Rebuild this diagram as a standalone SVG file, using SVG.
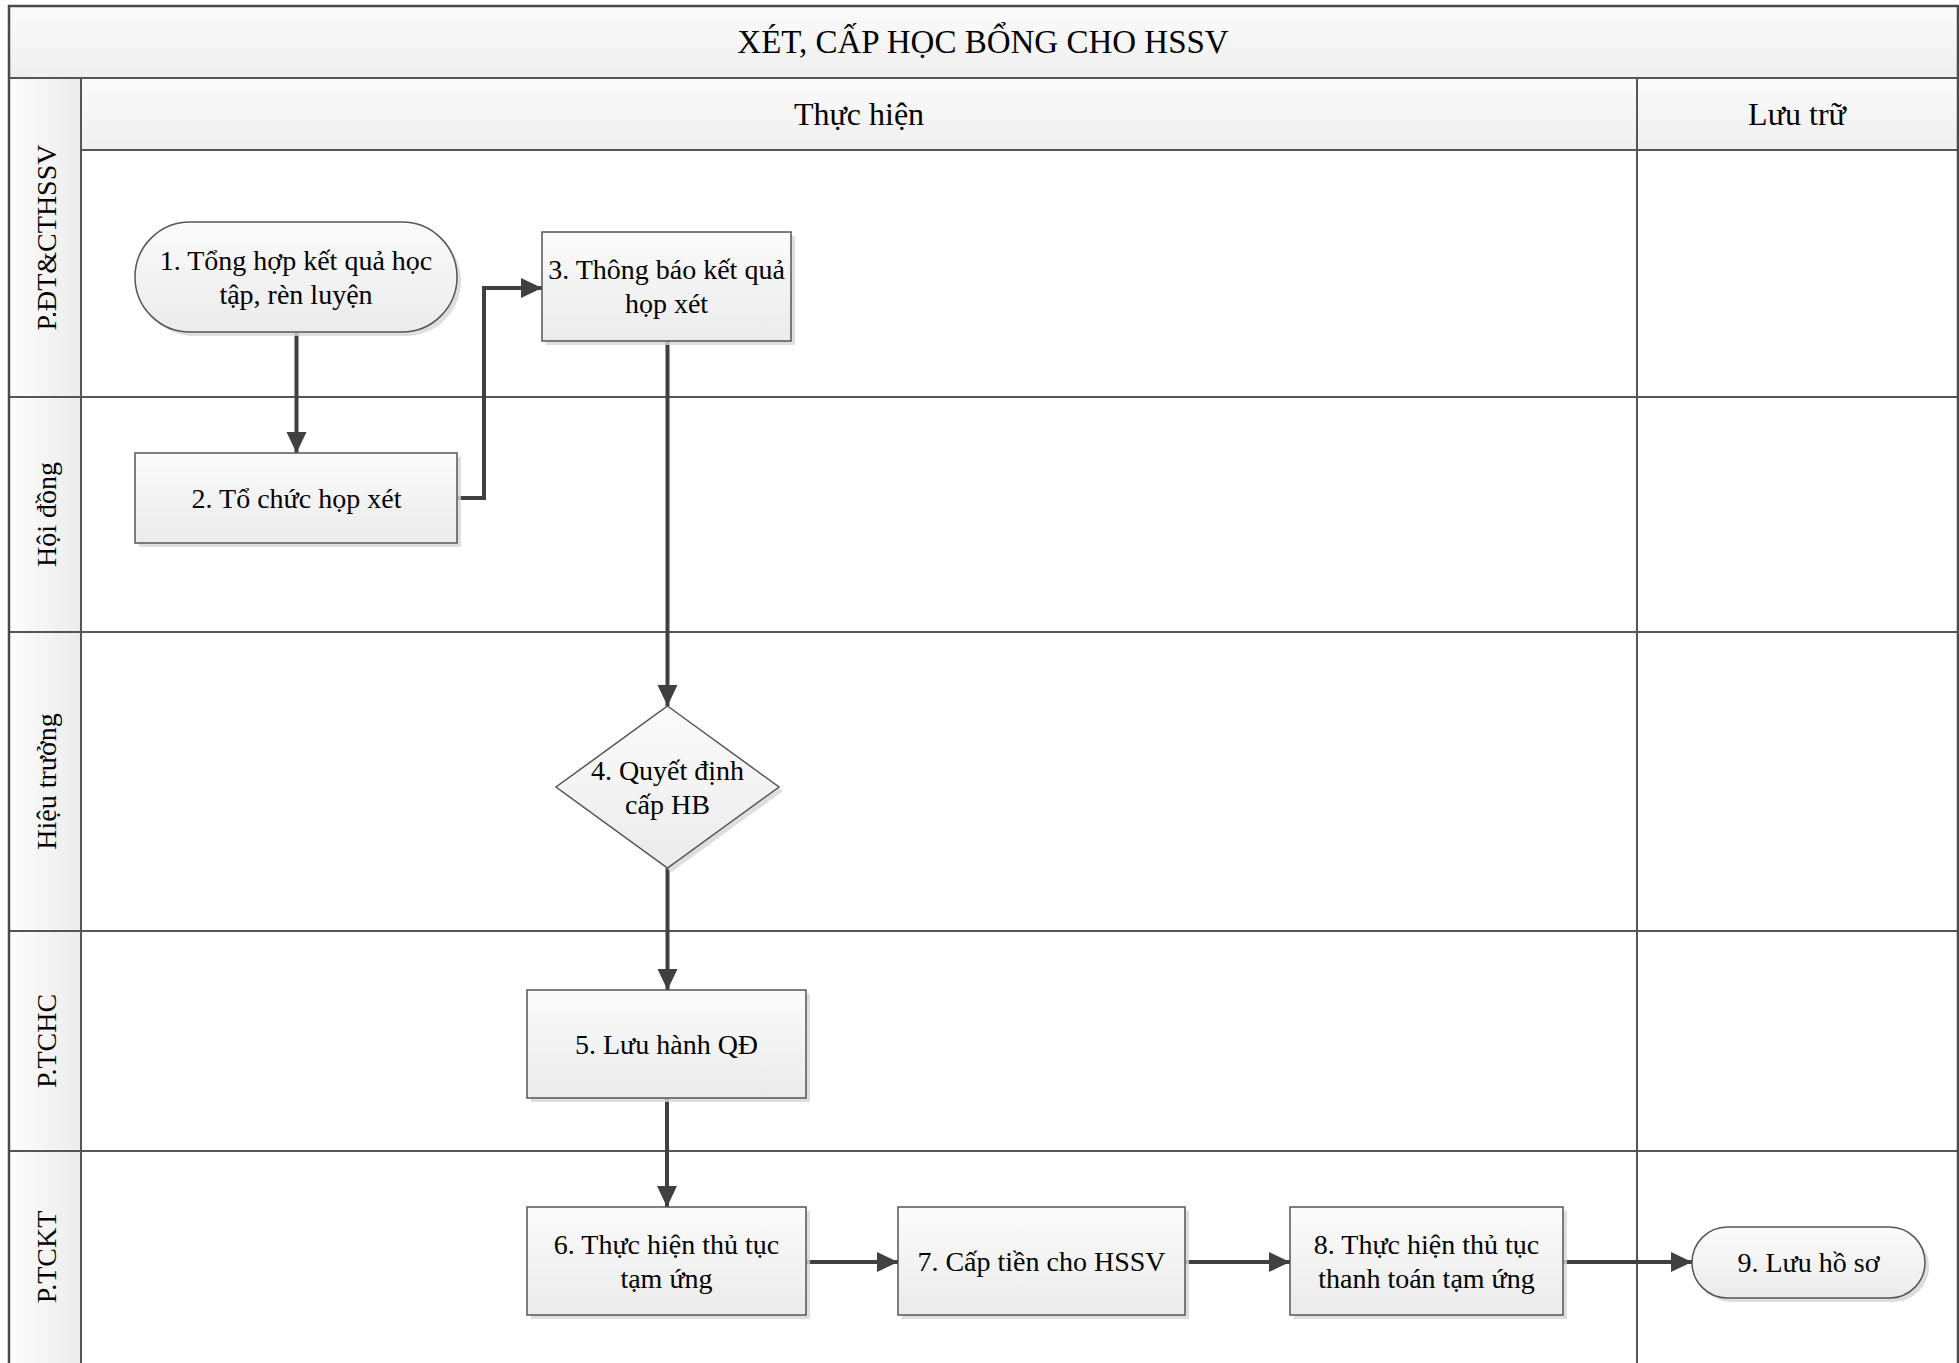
<svg xmlns="http://www.w3.org/2000/svg" width="1959" height="1363" viewBox="0 0 1959 1363">
<style>
.frame{fill:none;stroke:#4a4a4a;stroke-width:2.5}
.ln{stroke:#555;stroke-width:2;fill:none}
.node{fill:url(#ng);stroke:#555;stroke-width:1.5}
.shadow{fill:#d6d6d6;opacity:.8}
.t{font-family:"Liberation Serif","Times New Roman",serif;fill:#000;text-anchor:middle}
.nt{font-size:28px}
.ht{font-size:32px}
.tt{font-size:33px}
.conn{stroke:#404040;stroke-width:4;fill:none}
</style>
<defs>
<linearGradient id="ng" x1="0" y1="0" x2="0" y2="1"><stop offset="0" stop-color="#fbfbfb"/><stop offset="1" stop-color="#ebebeb"/></linearGradient>
<linearGradient id="hg" x1="0" y1="0" x2="0" y2="1"><stop offset="0" stop-color="#fbfbfb"/><stop offset="1" stop-color="#efefef"/></linearGradient>
<linearGradient id="lg" x1="0" y1="0" x2="1" y2="0"><stop offset="0" stop-color="#fdfdfd"/><stop offset="1" stop-color="#ececec"/></linearGradient>
<marker id="arr" markerUnits="userSpaceOnUse" markerWidth="24" markerHeight="22" refX="21" refY="10" orient="auto"><path d="M0,0 L21,10 L0,20 z" fill="#404040"/></marker>
</defs>
<rect x="0" y="0" width="1959" height="1363" fill="#fff"/>
<g id="pool">
<rect x="9" y="6" width="1949" height="72" fill="url(#hg)"/>
<rect x="81" y="78" width="1877" height="72" fill="url(#hg)"/>
<rect x="9" y="78" width="72" height="1300" fill="url(#lg)"/>
<line class="ln" x1="9" y1="78" x2="1958" y2="78"/>
<line class="ln" x1="81" y1="150" x2="1958" y2="150"/>
<line class="ln" x1="81" y1="78" x2="81" y2="1363"/>
<line class="ln" x1="1637" y1="78" x2="1637" y2="1363"/>
<line class="ln" x1="9" y1="397" x2="1958" y2="397"/>
<line class="ln" x1="9" y1="632" x2="1958" y2="632"/>
<line class="ln" x1="9" y1="931" x2="1958" y2="931"/>
<line class="ln" x1="9" y1="1151" x2="1958" y2="1151"/>
<rect class="frame" x="9" y="6" width="1949" height="1380"/>
<text class="t tt" x="983" y="53">XÉT, CẤP HỌC BỔNG CHO HSSV</text>
<text class="t ht" x="859" y="125">Thực hiện</text>
<text class="t ht" x="1797" y="125">Lưu trữ</text>
<text class="t nt" transform="translate(56,237.5) rotate(-90)">P.ĐT&amp;CTHSSV</text>
<text class="t nt" transform="translate(56,514.5) rotate(-90)">Hội đồng</text>
<text class="t nt" transform="translate(56,781.5) rotate(-90)">Hiệu trưởng</text>
<text class="t nt" transform="translate(56,1041) rotate(-90)">P.TCHC</text>
<text class="t nt" transform="translate(56,1257) rotate(-90)">P.TCKT</text>
</g>
<g id="connectors">
<line class="conn" x1="296.5" y1="333" x2="296.5" y2="453" marker-end="url(#arr)"/>
<polyline class="conn" points="458,498 484,498 484,288 542,288" marker-end="url(#arr)"/>
<line class="conn" x1="667.5" y1="341" x2="667.5" y2="706" marker-end="url(#arr)"/>
<line class="conn" x1="667.5" y1="868" x2="667.5" y2="990" marker-end="url(#arr)"/>
<line class="conn" x1="667" y1="1098" x2="667" y2="1207" marker-end="url(#arr)"/>
<line class="conn" x1="806" y1="1262" x2="898" y2="1262" marker-end="url(#arr)"/>
<line class="conn" x1="1185" y1="1262" x2="1290" y2="1262" marker-end="url(#arr)"/>
<line class="conn" x1="1563" y1="1262" x2="1692" y2="1262" marker-end="url(#arr)"/>
</g>
<g id="n1">
<rect class="shadow" x="139" y="226" width="322" height="110" rx="55"/>
<rect class="node" x="135" y="222" width="322" height="110" rx="55"/>
<text class="t nt" x="296" y="270">1. Tổng hợp kết quả học</text>
<text class="t nt" x="296" y="304">tập, rèn luyện</text>
</g>
<g id="n2">
<rect class="shadow" x="139" y="457" width="322" height="90"/>
<rect class="node" x="135" y="453" width="322" height="90"/>
<text class="t nt" x="296.5" y="508">2. Tổ chức họp xét</text>
</g>
<g id="n3">
<rect class="shadow" x="546" y="236" width="249" height="109"/>
<rect class="node" x="542" y="232" width="249" height="109"/>
<text class="t nt" x="666.5" y="279">3. Thông báo kết quả</text>
<text class="t nt" x="666.5" y="313">họp xét</text>
</g>
<g id="n4">
<polygon class="shadow" points="671.5,710 783,791 671.5,872 560,791"/>
<polygon class="node" points="667.5,706 779,787 667.5,868 556,787"/>
<text class="t nt" x="667.5" y="780">4. Quyết định</text>
<text class="t nt" x="667.5" y="814">cấp HB</text>
</g>
<g id="n5">
<rect class="shadow" x="531" y="994" width="279" height="108"/>
<rect class="node" x="527" y="990" width="279" height="108"/>
<text class="t nt" x="666.5" y="1054">5. Lưu hành QĐ</text>
</g>
<g id="n6">
<rect class="shadow" x="531" y="1211" width="279" height="108"/>
<rect class="node" x="527" y="1207" width="279" height="108"/>
<text class="t nt" x="666.5" y="1254">6. Thực hiện thủ tục</text>
<text class="t nt" x="666.5" y="1288">tạm ứng</text>
</g>
<g id="n7">
<rect class="shadow" x="902" y="1211" width="287" height="108"/>
<rect class="node" x="898" y="1207" width="287" height="108"/>
<text class="t nt" x="1041.5" y="1271">7. Cấp tiền cho HSSV</text>
</g>
<g id="n8">
<rect class="shadow" x="1294" y="1211" width="273" height="108"/>
<rect class="node" x="1290" y="1207" width="273" height="108"/>
<text class="t nt" x="1426.5" y="1254">8. Thực hiện thủ tục</text>
<text class="t nt" x="1426.5" y="1288">thanh toán tạm ứng</text>
</g>
<g id="n9">
<rect class="shadow" x="1696" y="1231" width="233" height="71" rx="35.5"/>
<rect class="node" x="1692" y="1227" width="233" height="71" rx="35.5"/>
<text class="t nt" x="1808.5" y="1272">9. Lưu hồ sơ</text>
</g>
</svg>
